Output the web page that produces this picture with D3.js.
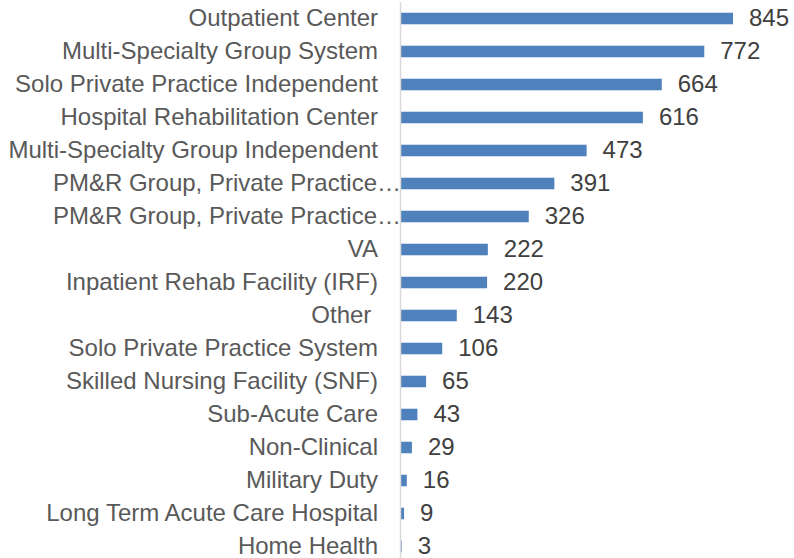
<!DOCTYPE html>
<html>
<head>
<meta charset="utf-8">
<script src="https://cdn.jsdelivr.net/npm/d3@7"></script>
<style>
  html, body { margin: 0; padding: 0; background: #fff; }
  svg { display: block; font-family: "Liberation Sans", Arial, sans-serif; }
</style>
</head>
<body>
<svg id="chart" width="794" height="558"></svg>
<script>
const categories = [
    'Outpatient Center',
    'Multi-Specialty Group System',
    'Solo Private Practice Independent',
    'Hospital Rehabilitation Center',
    'Multi-Specialty Group Independent',
    'PM&R Group, Private Practice\u2026',
    'PM&R Group, Private Practice\u2026 ',
    'VA',
    'Inpatient Rehab Facility (IRF)',
    'Other ',
    'Solo Private Practice System',
    'Skilled Nursing Facility (SNF)',
    'Sub-Acute Care',
    'Non-Clinical',
    'Military Duty',
    'Long Term Acute Care Hospital',
    'Home Health'
];
const values = [845, 772, 664, 616, 473, 391, 326, 222, 220, 143, 106, 65, 43, 29, 16, 9, 3];

const svg = d3.select('#chart');
const axisX = 400.5;
const fontSize = 24;

const x = d3.scaleLinear().domain([0, 845]).range([axisX, 733]);
const y = d3.scaleBand()
    .domain(categories)
    .range([2, 563])
    .paddingInner(0.65)
    .paddingOuter(0.325);

// Bars
svg.append('g').selectAll('rect')
    .data(values)
    .join('rect')
    .attr('x', axisX + 0.5)
    .attr('y', (d, i) => y(categories[i]))
    .attr('width', (d) => Math.max(0, x(d) - axisX - 0.5))
    .attr('height', y.bandwidth())
    .attr('fill', '#4f81bd');

// Vertical axis line
svg.append('line')
    .attr('x1', axisX).attr('x2', axisX)
    .attr('y1', 2).attr('y2', 558)
    .attr('stroke', '#d9d9d9')
    .attr('stroke-width', 1.5);

// Category labels (truncated ones run up to the axis; trailing spaces kept)
svg.append('g').selectAll('text')
    .data(categories)
    .join('text')
    .attr('x', (d) => d.trim().endsWith('\u2026') ? 401 : 378)
    .attr('y', (d) => y(d) + y.bandwidth() / 2)
    .attr('dy', '0.33em')
    .attr('text-anchor', 'end')
    .attr('font-size', fontSize)
    .attr('fill', '#595959')
    .text((d) => d.trim().endsWith('\u2026') ? d.trim() : d.replace(/ $/, '\u00a0'));

// Value labels
svg.append('g').selectAll('text')
    .data(values)
    .join('text')
    .attr('x', (d) => x(d) + 16)
    .attr('y', (d, i) => y(categories[i]) + y.bandwidth() / 2)
    .attr('dy', '0.33em')
    .attr('font-size', fontSize)
    .attr('fill', '#404040')
    .text((d) => d);
</script>
</body>
</html>
